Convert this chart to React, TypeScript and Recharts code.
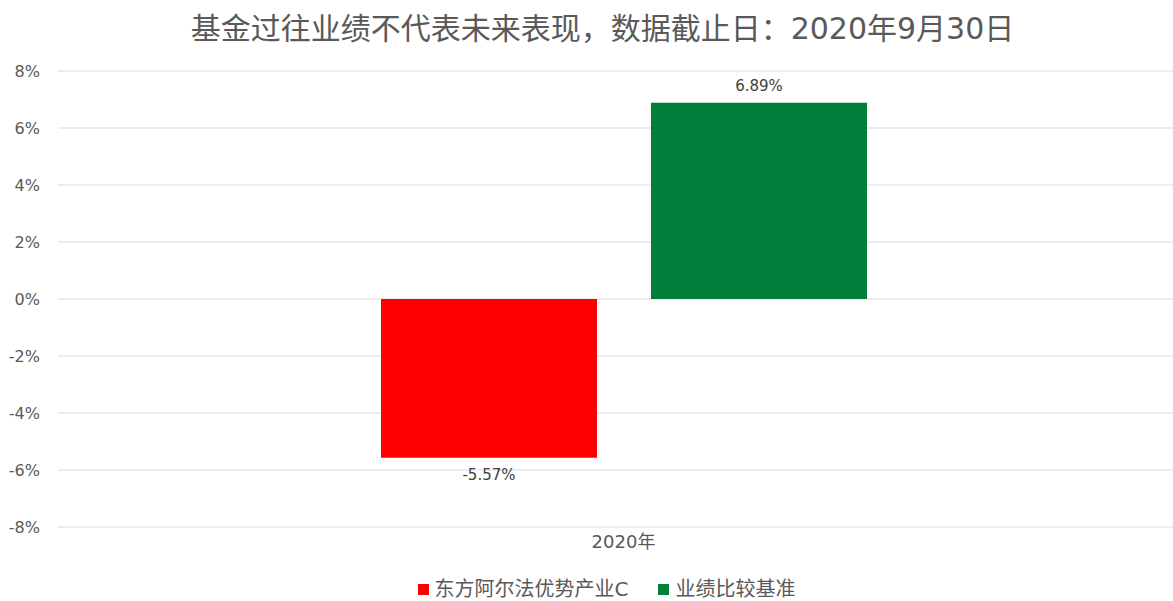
import { BarChart, Bar, XAxis, YAxis, CartesianGrid, Legend, LabelList } from "recharts";

const categories = ["2020年"];
const fundName = "东方阿尔法优势产业C";
const benchName = "业绩比较基准";
const fundValues = [-5.57];
const benchValues = [6.89];
const yTicks = [-8, -6, -4, -2, 0, 2, 4, 6, 8];

const title = "基金过往业绩不代表未来表现，数据截止日：2020年9月30日";

const FONT = "'DejaVu Sans', 'Noto Sans CJK SC', sans-serif";
const legendOrder = [fundName, benchName];

const data = categories.map((c, i) => ({
  name: c,
  fund: fundValues[i],
  bench: benchValues[i],
}));

const pct = (v: number) => `${v}%`;

function LegendContent({ payload }: any) {
  const items = [...(payload || [])].sort(
    (a: any, b: any) => legendOrder.indexOf(a.value) - legendOrder.indexOf(b.value)
  );
  return (
    <div style={{ display: "flex", justifyContent: "center", alignItems: "center", fontFamily: FONT }}>
      {items.map((item: any, index: number) => (
        <div
          key={`item-${index}`}
          style={{ display: "flex", alignItems: "center", marginRight: index === 0 ? 30 : 0 }}
        >
          <span style={{ width: 11, height: 11, background: item.color, display: "inline-block", marginRight: 6 }} />
          <span style={{ fontSize: 20, lineHeight: "20px", color: "#595959" }}>{item.value}</span>
        </div>
      ))}
    </div>
  );
}

export default function App() {
  return (
    <div
      style={{
        position: "absolute",
        left: 0,
        top: 0,
        width: 1173,
        height: 601,
        overflow: "hidden",
        background: "#fff",
      }}
    >
      <div
        style={{
          position: "absolute",
          top: 14,
          left: 0,
          width: 1205,
          textAlign: "center",
          fontFamily: FONT,
          fontSize: 30,
          lineHeight: "30px",
          color: "#595959",
          zIndex: 1,
        }}
      >
        {title}
      </div>
      <BarChart
        width={1189}
        height={601}
        data={data}
        margin={{ top: 71, right: 0, left: 0, bottom: 44 }}
        barCategoryGap={323}
        barGap={54}
      >
        <CartesianGrid vertical={false} stroke="#D9D9D9" strokeWidth={1} />
        <XAxis
          dataKey="name"
          height={30}
          axisLine={false}
          tickLine={false}
          tickMargin={2}
          tick={{ fill: "#595959", fontSize: 18, fontFamily: FONT }}
        />
        <YAxis
          width={58}
          domain={[-8, 8]}
          ticks={yTicks}
          tickFormatter={pct}
          axisLine={false}
          tickLine={false}
          tickMargin={12}
          tick={{ fill: "#595959", fontSize: 16, fontFamily: FONT }}
        />
        <Legend
          layout="horizontal"
          verticalAlign="middle"
          align="center"
          content={<LegendContent />}
          wrapperStyle={{ top: 579, left: 12, width: 1189, height: 20 }}
        />
        <Bar dataKey="fund" name={fundName} fill="#FF0000" isAnimationActive={false}>
          <LabelList
            dataKey="fund"
            position="top"
            offset={12}
            formatter={(v: number) => `${v.toFixed(2)}%`}
            style={{ fill: "#404040", fontSize: 15, fontFamily: FONT }}
          />
        </Bar>
        <Bar dataKey="bench" name={benchName} fill="#007E3A" isAnimationActive={false}>
          <LabelList
            dataKey="bench"
            position="top"
            offset={12}
            formatter={(v: number) => `${v.toFixed(2)}%`}
            style={{ fill: "#404040", fontSize: 15, fontFamily: FONT }}
          />
        </Bar>
      </BarChart>
    </div>
  );
}
